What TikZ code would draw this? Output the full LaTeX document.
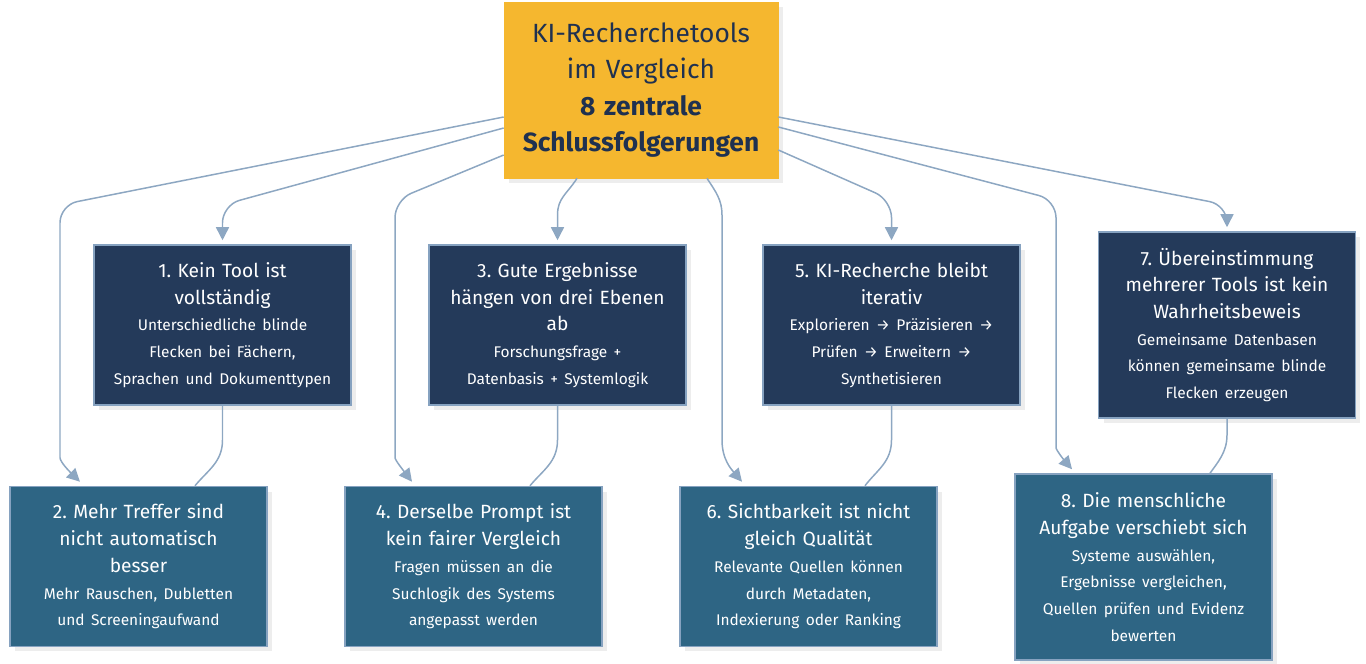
\documentclass[tikz,border=0pt]{standalone}
\usepackage{fontspec}
\setmainfont{Fira Sans}
\usetikzlibrary{arrows.meta,calc,shadows}

\definecolor{gelb}{HTML}{F5B72F}
\definecolor{navy}{HTML}{243A5A}
\definecolor{petrol}{HTML}{2E6584}
\definecolor{rand}{HTML}{86A2C0}
\definecolor{strich}{HTML}{8DA7C2}
\definecolor{schrift}{HTML}{1F3150}

\newcommand{\titelfont}{\fontsize{15}{20.8}\selectfont}
\newcommand{\kopf}{\fontsize{10.9}{15.2}\selectfont}
\newcommand{\unter}{\fontsize{8.8}{15.2}\selectfont}
\frenchspacing

\tikzset{
	schatten/.style={general shadow={fill=black!7, shadow xshift=0.1cm, shadow yshift=-0.1cm}},
	box/.style={schatten, draw=rand, line width=0.9pt, text=white, align=center, inner sep=0pt,
		text width=5cm, minimum width=5.14cm, minimum height=3.2cm, font=\kopf},
	obenbox/.style={box, fill=navy},
	untenbox/.style={box, fill=petrol},
	titelbox/.style={schatten, fill=gelb, draw=gelb, text=schrift, align=center, inner sep=0pt,
		text width=5.3cm, minimum width=5.48cm, minimum height=3.52cm, font=\titelfont},
	verbindung/.style={draw=strich, line width=0.85pt},
	pfeil/.style={verbindung, -{Triangle[length=0.26cm,width=0.26cm]}}
}

\begin{document}
\begin{tikzpicture}[x=0.02cm, y=-0.02cm]
		%%%%% START %%%%%
		\useasboundingbox (0,0) rectangle (1366,663);
		
		\node[titelbox] (titel) at (641,90) {KI-Recherchetools\\im Vergleich\\\textbf{8 zentrale}\\\textbf{Schlussfolgerungen}};
		
		\node[obenbox] (k1) at (222.5,325) {1. Kein Tool ist\\vollständig\\{\unter Unterschiedliche blinde\\Flecken bei Fächern,\\Sprachen und Dokumenttypen}};
		\node[obenbox] (k3) at (557.5,325) {3. Gute Ergebnisse\\hängen von drei Ebenen\\ab\\{\unter Forschungsfrage +\\Datenbasis + Systemlogik}};
		\node[obenbox] (k5) at (891.5,325) {5. KI-Recherche bleibt\\iterativ\\{\unter Explorieren → Präzisieren →\\Prüfen → Erweitern →\\Synthetisieren}};
		\node[obenbox, minimum height=3.72cm] (k7) at (1227,325) {7. Übereinstimmung\\mehrerer Tools ist kein\\Wahrheitsbeweis\\{\unter Gemeinsame Datenbasen\\können gemeinsame blinde\\Flecken erzeugen}};
		
		\node[untenbox] (k2) at (138.5,566.5) {2. Mehr Treffer sind\\nicht automatisch\\besser\\{\unter Mehr Rauschen, Dubletten\\und Screeningaufwand}};
		\node[untenbox] (k4) at (473.5,566.5) {4. Derselbe Prompt ist\\kein fairer Vergleich\\{\unter Fragen müssen an die\\Suchlogik des Systems\\angepasst werden}};
		\node[untenbox] (k6) at (808.5,566.5) {6. Sichtbarkeit ist nicht\\gleich Qualität\\{\unter Relevante Quellen können\\durch Metadaten,\\Indexierung oder Ranking}};
		\node[untenbox, minimum height=3.72cm] (k8) at (1143.5,567) {8. Die menschliche\\Aufgabe verschiebt sich\\{\unter Systeme auswählen,\\Ergebnisse vergleichen,\\Quellen prüfen und Evidenz\\bewerten}};
		
		% vom Titel nach oben
		\draw[pfeil, rounded corners=10] ($(titel.west)+(0,38)$) -- (222.5,205) -- ($(k1.north)+(0,-4)$);
		\draw[pfeil] ($(titel.south)+(-64,0)$) .. controls (567,194) and (557.5,198) .. (557.5,215) -- ($(k3.north)+(0,-4)$);
		\draw[pfeil, rounded corners=10] ($(titel.east)+(0,60)$) -- (891.5,200) -- ($(k5.north)+(0,-4)$);
		\draw[pfeil, rounded corners=10] ($(titel.east)+(0,27)$) -- (1227,205) -- ($(k7.north)+(0,-4)$);
		
		% vom Titel nach unten
		\draw[pfeil, rounded corners=10] ($(titel.west)+(0,27)$) -- (60,205) -- (60,440) .. controls (60,462) and (70,472) .. ($(k2.north)+(-58.5,-4)$);
		\draw[pfeil, rounded corners=10] ($(titel.west)+(0,65)$) -- (395,200) -- (395,440) .. controls (395,460) and (403,470) .. ($(k4.north)+(-61.5,-4)$);
		\draw[pfeil] ($(titel.south)+(66,0)$) .. controls (716,192) and (722,200) .. (722,215) -- (722,440) .. controls (722,460) and (732,470) .. ($(k6.north)+(-66.5,-4)$);
		\draw[pfeil, rounded corners=10] ($(titel.east)+(0,37)$) -- (1056,200) -- (1056,430) .. controls (1056,450) and (1064,460) .. ($(k8.north)+(-71.5,-4)$);
		
		% oben nach unten
		\draw[verbindung] (k1.south) -- (222.5,440) .. controls (222.5,462) and (208,470) .. ($(k2.north)+(56.5,0)$);
		\draw[verbindung] (k3.south) -- (557.5,440) .. controls (557.5,462) and (543,470) .. ($(k4.north)+(56.5,0)$);
		\draw[verbindung] (k5.south) -- (891.5,440) .. controls (891.5,462) and (877,470) .. ($(k6.north)+(56.5,0)$);
		\draw[verbindung] (k7.south) -- (1227,435) .. controls (1227,452) and (1218,462) .. ($(k8.north)+(66.5,0)$);
		
		%%%%% END %%%%%
\end{tikzpicture}
\end{document}
